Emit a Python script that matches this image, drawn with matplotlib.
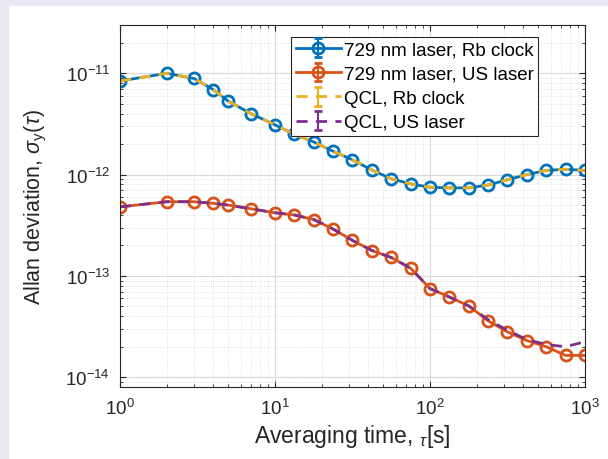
import numpy as np
import matplotlib.pyplot as plt

# averaging times [s]
tau = [1, 2, 3, 4, 5, 7, 10, 13.3, 17.8, 23.7, 31.6, 42.2, 56.2, 75,
       100, 133, 178, 237, 316, 422, 562, 750, 1000]

# 729 nm laser vs Rb clock
adev_729_rb = [8.4e-12, 1.0e-11, 8.9e-12, 6.9e-12, 5.3e-12, 4.0e-12, 3.1e-12,
               2.5e-12, 2.1e-12, 1.7e-12, 1.4e-12, 1.11e-12, 9.1e-13, 8.1e-13,
               7.5e-13, 7.4e-13, 7.4e-13, 7.9e-13, 8.9e-13, 1.0e-12, 1.1e-12,
               1.13e-12, 1.1e-12]

# 729 nm laser vs US laser
adev_729_us = [4.8e-13, 5.4e-13, 5.4e-13, 5.2e-13, 5.0e-13, 4.6e-13, 4.2e-13,
               4.0e-13, 3.6e-13, 2.9e-13, 2.24e-13, 1.78e-13, 1.52e-13, 1.19e-13,
               7.5e-14, 6.2e-14, 5.05e-14, 3.6e-14, 2.8e-14, 2.3e-14, 2.0e-14,
               1.64e-14, 1.64e-14]

# QCL vs Rb clock
adev_qcl_rb = [8.4e-12, 1.0e-11, 8.9e-12, 6.9e-12, 5.3e-12, 4.0e-12, 3.1e-12,
               2.5e-12, 2.1e-12, 1.7e-12, 1.4e-12, 1.11e-12, 9.1e-13, 8.1e-13,
               7.5e-13, 7.4e-13, 7.4e-13, 7.9e-13, 8.9e-13, 1.0e-12, 1.1e-12,
               1.13e-12, 1.1e-12]

# QCL vs US laser
adev_qcl_us = [4.8e-13, 5.4e-13, 5.4e-13, 5.2e-13, 5.0e-13, 4.6e-13, 4.2e-13,
               4.0e-13, 3.6e-13, 2.9e-13, 2.24e-13, 1.78e-13, 1.52e-13, 1.19e-13,
               7.5e-14, 6.2e-14, 5.05e-14, 3.7e-14, 2.9e-14, 2.35e-14, 2.1e-14,
               2.0e-14, 2.24e-14]

# error bars are too small to see in the figure
err = [0.0] * len(tau)

x_ticks = [1, 10, 100, 1000]
x_tick_labels = [r"$\mathregular{10^{0}}$", r"$\mathregular{10^{1}}$",
                 r"$\mathregular{10^{2}}$", r"$\mathregular{10^{3}}$"]
y_ticks = [1e-14, 1e-13, 1e-12, 1e-11]
y_tick_labels = [r"$\mathregular{10^{-14}}$", r"$\mathregular{10^{-13}}$",
                 r"$\mathregular{10^{-12}}$", r"$\mathregular{10^{-11}}$"]


def main():
    plt.rcParams["font.family"] = ["Liberation Sans", "DejaVu Sans"]
    plt.rcParams["mathtext.fontset"] = "custom"
    plt.rcParams["mathtext.rm"] = "Liberation Sans"
    plt.rcParams["mathtext.it"] = "Liberation Sans:italic"

    fig = plt.figure(figsize=(6.08, 4.6), dpi=100)
    fig.patch.set_facecolor("#e8e8f3")
    fig.patches.append(plt.Rectangle((9 / 608, 0), 1, 1 - 7 / 460,
                                     transform=fig.transFigure,
                                     facecolor="white", edgecolor="none",
                                     zorder=-1))
    ax = fig.add_axes([120 / 608, 1 - 388 / 460, 465 / 608, 362 / 460])

    series = [
        (adev_729_rb, "#0072BD", "-", "o", "729 nm laser, Rb clock"),
        (adev_729_us, "#D95319", "-", "o", "729 nm laser, US laser"),
        (adev_qcl_rb, "#EDB120", (0, (4, 3)), "none", "QCL, Rb clock"),
        (adev_qcl_us, "#7E2F8E", (0, (4, 3)), "none", "QCL, US laser"),
    ]
    for vals, color, ls, marker, label in series:
        eb = ax.errorbar(tau, vals, yerr=err, color=color, linestyle=ls,
                         linewidth=2, marker=marker, markersize=8,
                         markerfacecolor="none", markeredgewidth=2,
                         capsize=3, elinewidth=1.5, label=label)
        for cap in eb[1]:
            cap.set_data([], [])

    ax.set_xscale("log")
    ax.set_yscale("log")
    ax.set_xlim(1, 1000)
    ax.set_ylim(8e-15, 3e-11)
    ax.set_xticks(x_ticks)
    ax.set_xticklabels(x_tick_labels)
    ax.set_yticks(y_ticks)
    ax.set_yticklabels(y_tick_labels)

    ax.grid(True, which="major", color="#d9d9d9", linewidth=0.8)
    ax.grid(True, which="minor", color="#d9d9d9", linewidth=0.6, linestyle=":")
    ax.set_axisbelow(True)
    ax.tick_params(which="both", direction="in", top=True, right=True,
                   colors="#262626", labelsize=13.5)
    ax.tick_params(which="major", length=4)
    ax.tick_params(which="minor", length=2.5)
    ax.tick_params(axis="x", which="both", pad=8)
    ax.tick_params(axis="y", which="both", pad=7)
    for sp in ax.spines.values():
        sp.set_color("#262626")
        sp.set_linewidth(0.8)

    ax.set_xlabel(r"Averaging time, $_\tau$[s]", fontsize=16.5,
                  color="#262626", labelpad=3)
    ax.set_ylabel(r"Allan deviation, $\sigma_\mathregular{y}(\tau)$",
                  fontsize=15.5, color="#262626", labelpad=12)

    leg = ax.legend(loc="upper left", bbox_to_anchor=(0.368, 0.968),
                    borderaxespad=0, fancybox=False, framealpha=1,
                    edgecolor="#262626", fontsize=13.5, handlelength=2.4,
                    labelspacing=0.38, borderpad=0.25, handletextpad=0.15)
    leg.get_frame().set_linewidth(0.8)

    fig.savefig("out.png", dpi=100, facecolor=fig.get_facecolor())


if __name__ == "__main__":
    main()
